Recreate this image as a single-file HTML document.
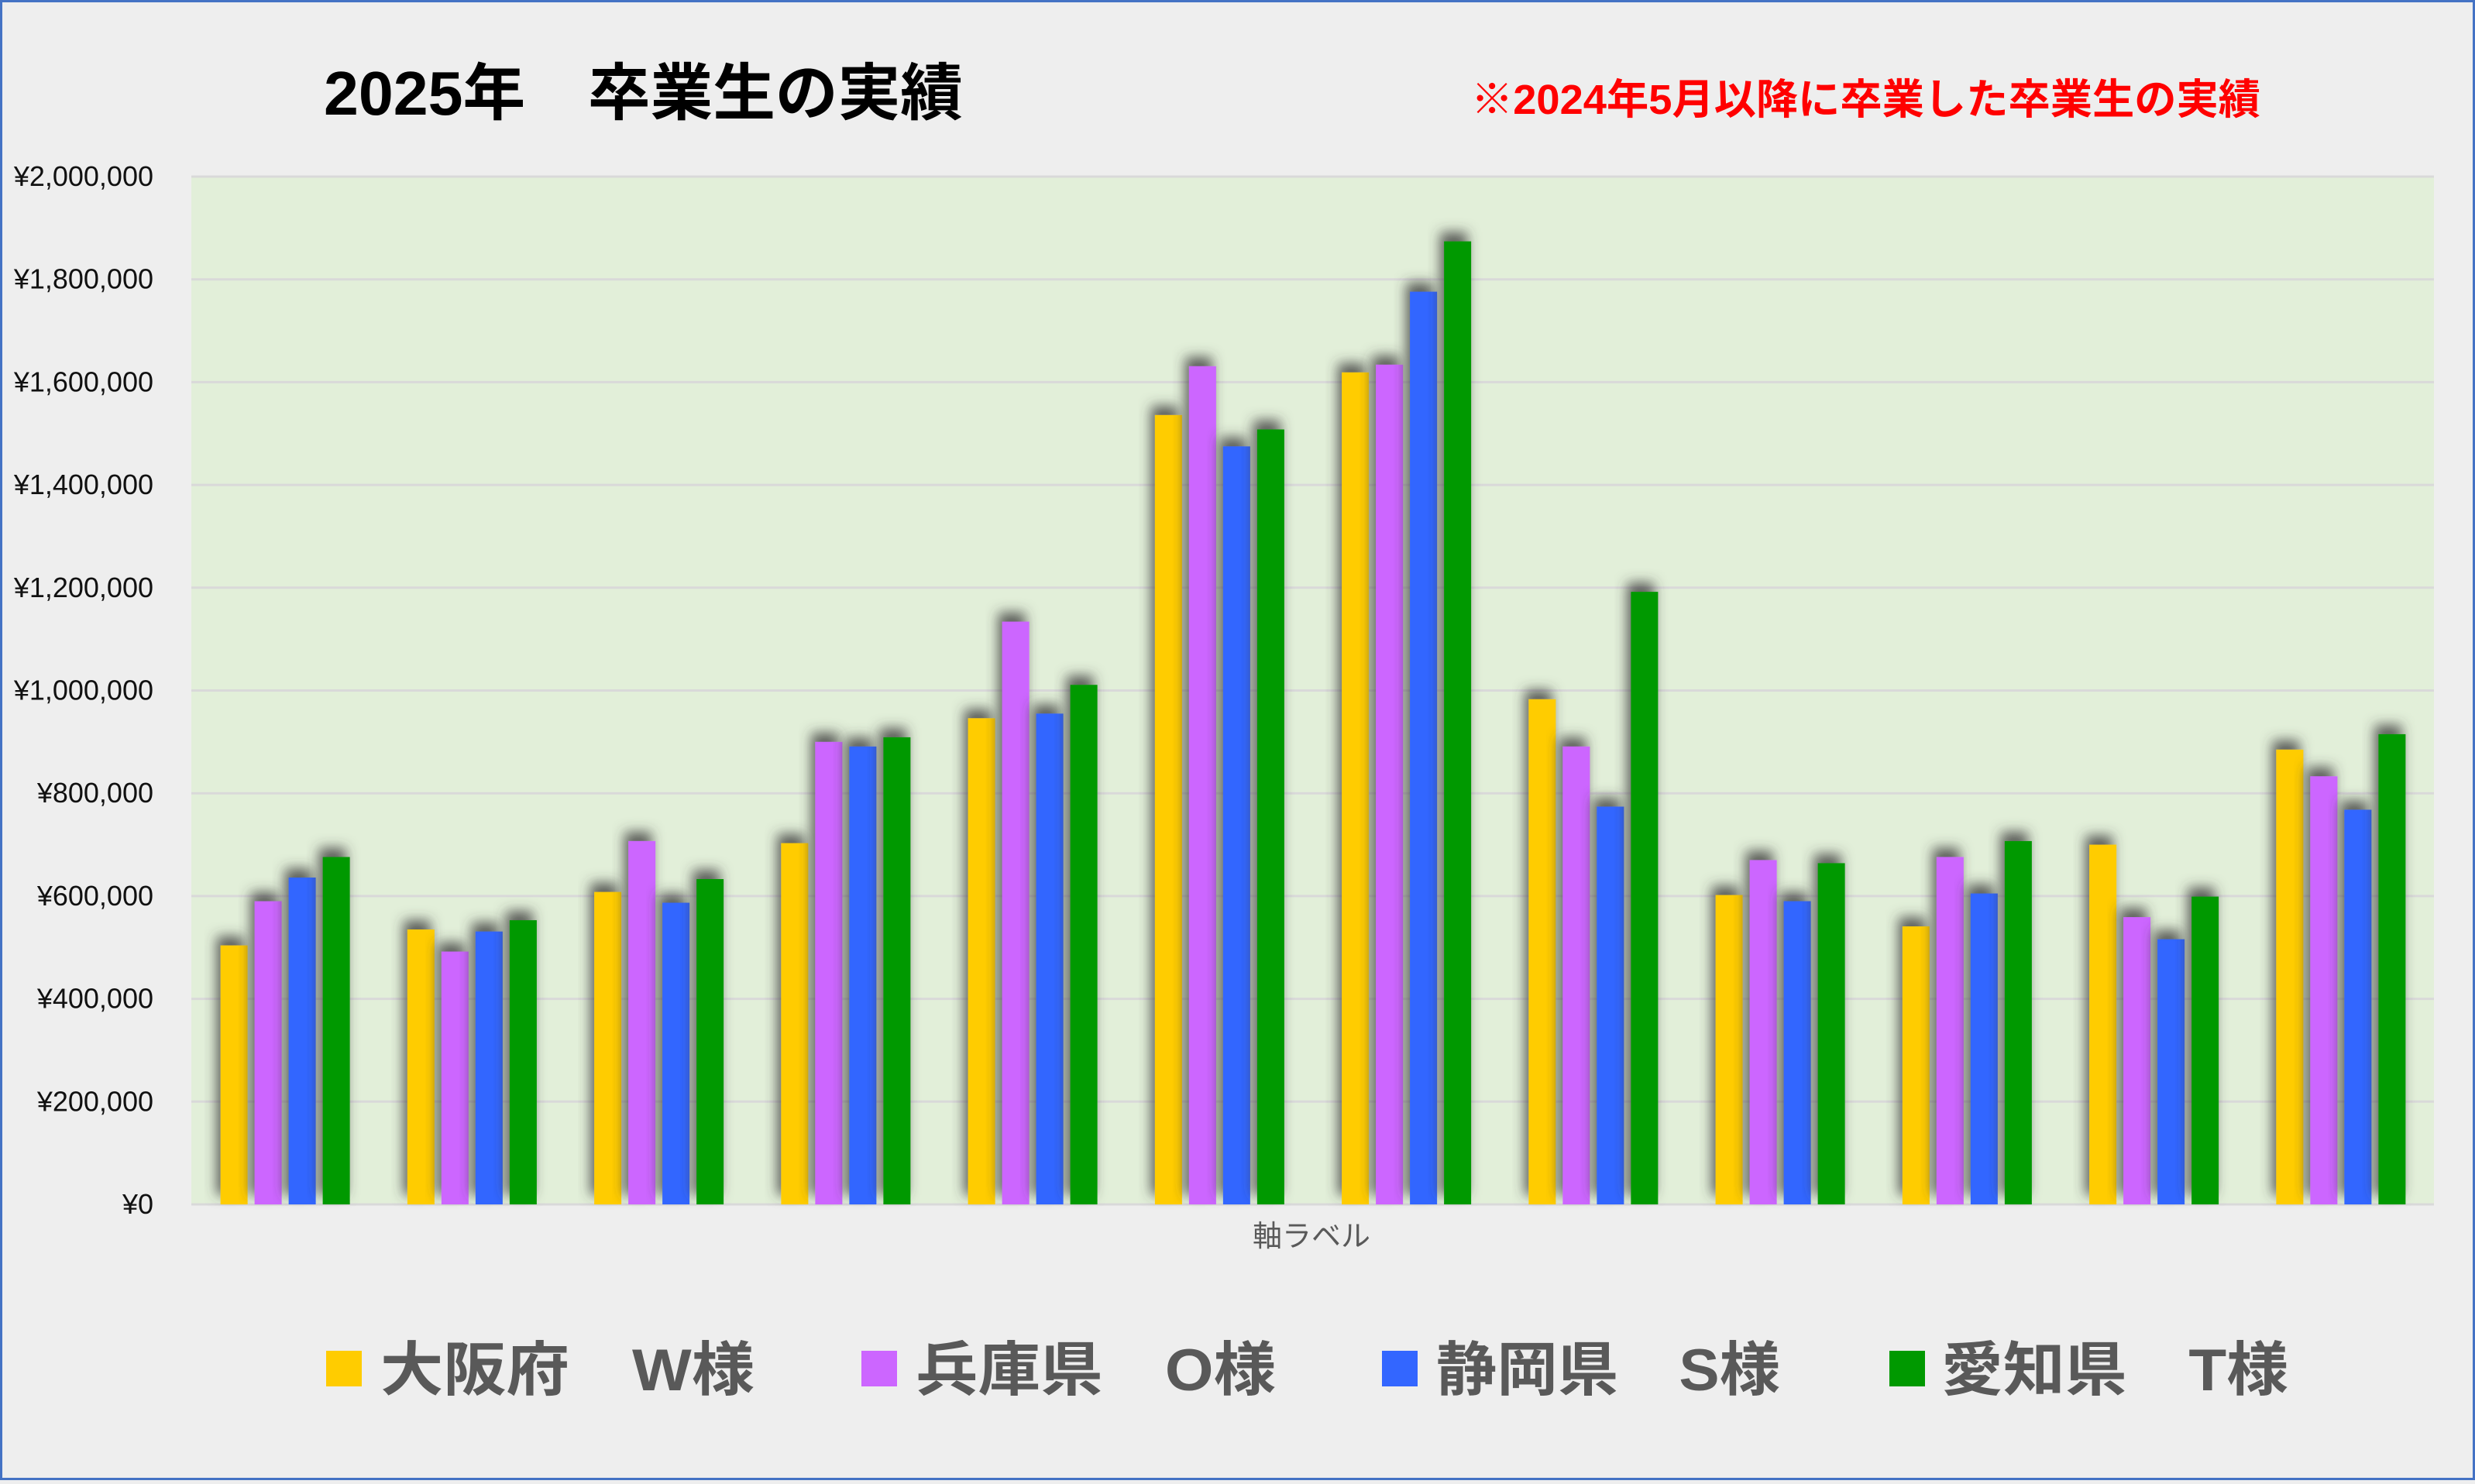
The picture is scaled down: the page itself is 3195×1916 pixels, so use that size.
<!DOCTYPE html>
<html><head><meta charset="utf-8"><style>
html,body{margin:0;padding:0}
body{width:3195px;height:1911px;background:#eeeeee;font-family:"Liberation Sans","Noto Sans CJK JP",sans-serif;overflow:hidden}
</style></head><body>
<svg id="chart" width="3195" height="1911" viewBox="0 0 3195 1911" xmlns="http://www.w3.org/2000/svg">
<defs>
<filter id="sh" x="-60%" y="-10%" width="220%" height="120%">
<feGaussianBlur in="SourceAlpha" stdDeviation="8"/>
<feOffset dx="-5" dy="-12" result="b"/>
<feFlood flood-color="#3a3a3a" flood-opacity="0.8"/>
<feComposite in2="b" operator="in"/>
<feMerge><feMergeNode/><feMergeNode in="SourceGraphic"/></feMerge>
</filter>
</defs>
<rect x="1.5" y="1.5" width="3192" height="1908" fill="#eeeeee" stroke="#4472c4" stroke-width="3"/>
<text x="418" y="148" font-size="80" font-weight="bold" fill="#000" textLength="825" lengthAdjust="spacingAndGlyphs" font-family="'Liberation Sans','Noto Sans CJK JP',sans-serif">2025年　卒業生の実績</text>
<text x="1899" y="147" font-size="54" font-weight="bold" fill="#ff0000" textLength="1019" lengthAdjust="spacingAndGlyphs" font-family="'Liberation Sans','Noto Sans CJK JP',sans-serif">※2024年5月以降に卒業した卒業生の実績</text>
<rect x="247" y="228" width="2895" height="1327" fill="#e2efd9"/>
<g id="grid"></g>
<g id="bars"></g>
<text x="1693" y="1609" font-size="38" fill="#595959" text-anchor="middle">軸ラベル</text>
<g id="legend"></g>
</svg>
<script>
const categories = ["1","2","3","4","5","6","7","8","9","10","11","12"];
const seriesNames = ["大阪府　W様","兵庫県　O様","静岡県　S様","愛知県　T様"];
const seriesColors = ["#ffcc00","#cc66ff","#3366ff","#009900"];
const osaka = [504000,535000,608000,703000,946000,1536000,1619000,983000,602000,541000,700000,885000];
const hyogo = [590000,492000,707000,900000,1134000,1631000,1634000,891000,670000,676000,559000,833000];
const shizuoka = [636000,531000,587000,891000,955000,1475000,1776000,774000,590000,605000,516000,768000];
const aichi = [676000,553000,633000,909000,1011000,1508000,1874000,1192000,664000,707000,599000,915000];
const yTicks = [0,200000,400000,600000,800000,1000000,1200000,1400000,1600000,1800000,2000000];
const yTickLabels = ["¥0","¥200,000","¥400,000","¥600,000","¥800,000","¥1,000,000","¥1,200,000","¥1,400,000","¥1,600,000","¥1,800,000","¥2,000,000"];

const NS="http://www.w3.org/2000/svg";
const PL=247, PR=3142, PT=228, PB=1555, YMAX=2000000;
const y = v => PB - (v/YMAX)*(PB-PT);
const band = (PR-PL)/categories.length;
const x = (i,s) => PL + band*i + band/2 - 83 + s*44;
function mk(tag, attrs){const e=document.createElementNS(NS,tag);for(const k in attrs)e.setAttribute(k,attrs[k]);return e;}

const grid=document.getElementById('grid');
yTicks.forEach((t,i)=>{
  const l=mk('line',{x1:PL,x2:PR,y1:y(t),y2:y(t),stroke:'#d9d9d9','stroke-width':3});
  
  
  grid.appendChild(l);
  const tx=mk('text',{x:198,y:y(t)+12,'font-size':36,'text-anchor':'end',fill:'#111'});
  tx.textContent=yTickLabels[i];
  
  
  grid.appendChild(tx);
});

const series=[osaka,hyogo,shizuoka,aichi];
const bars=document.getElementById('bars');
categories.forEach((c,i)=>{
  series.forEach((arr,s)=>{
    const r=mk('rect',{x:x(i,s),y:y(arr[i]),width:35,height:PB-y(arr[i]),fill:seriesColors[s],filter:'url(#sh)'});
    
    
    bars.appendChild(r);
  });
});

const legend=document.getElementById('legend');
const legendX=[421,1112,1784,2439];
const legendTextX=[491,1182,1854,2506];
const legendW=[483,465,444,448];
seriesNames.forEach((n,s)=>{
  const r=mk('rect',{x:legendX[s],y:1744,width:46,height:46,fill:seriesColors[s]});
  
  
  legend.appendChild(r);
  const t=mk('text',{x:legendTextX[s],y:1795,'font-size':76,'font-weight':'bold',fill:'#595959',textLength:legendW[s],lengthAdjust:'spacingAndGlyphs'});
  t.textContent=n;
  
  
  legend.appendChild(t);
});
</script>
</body></html>
